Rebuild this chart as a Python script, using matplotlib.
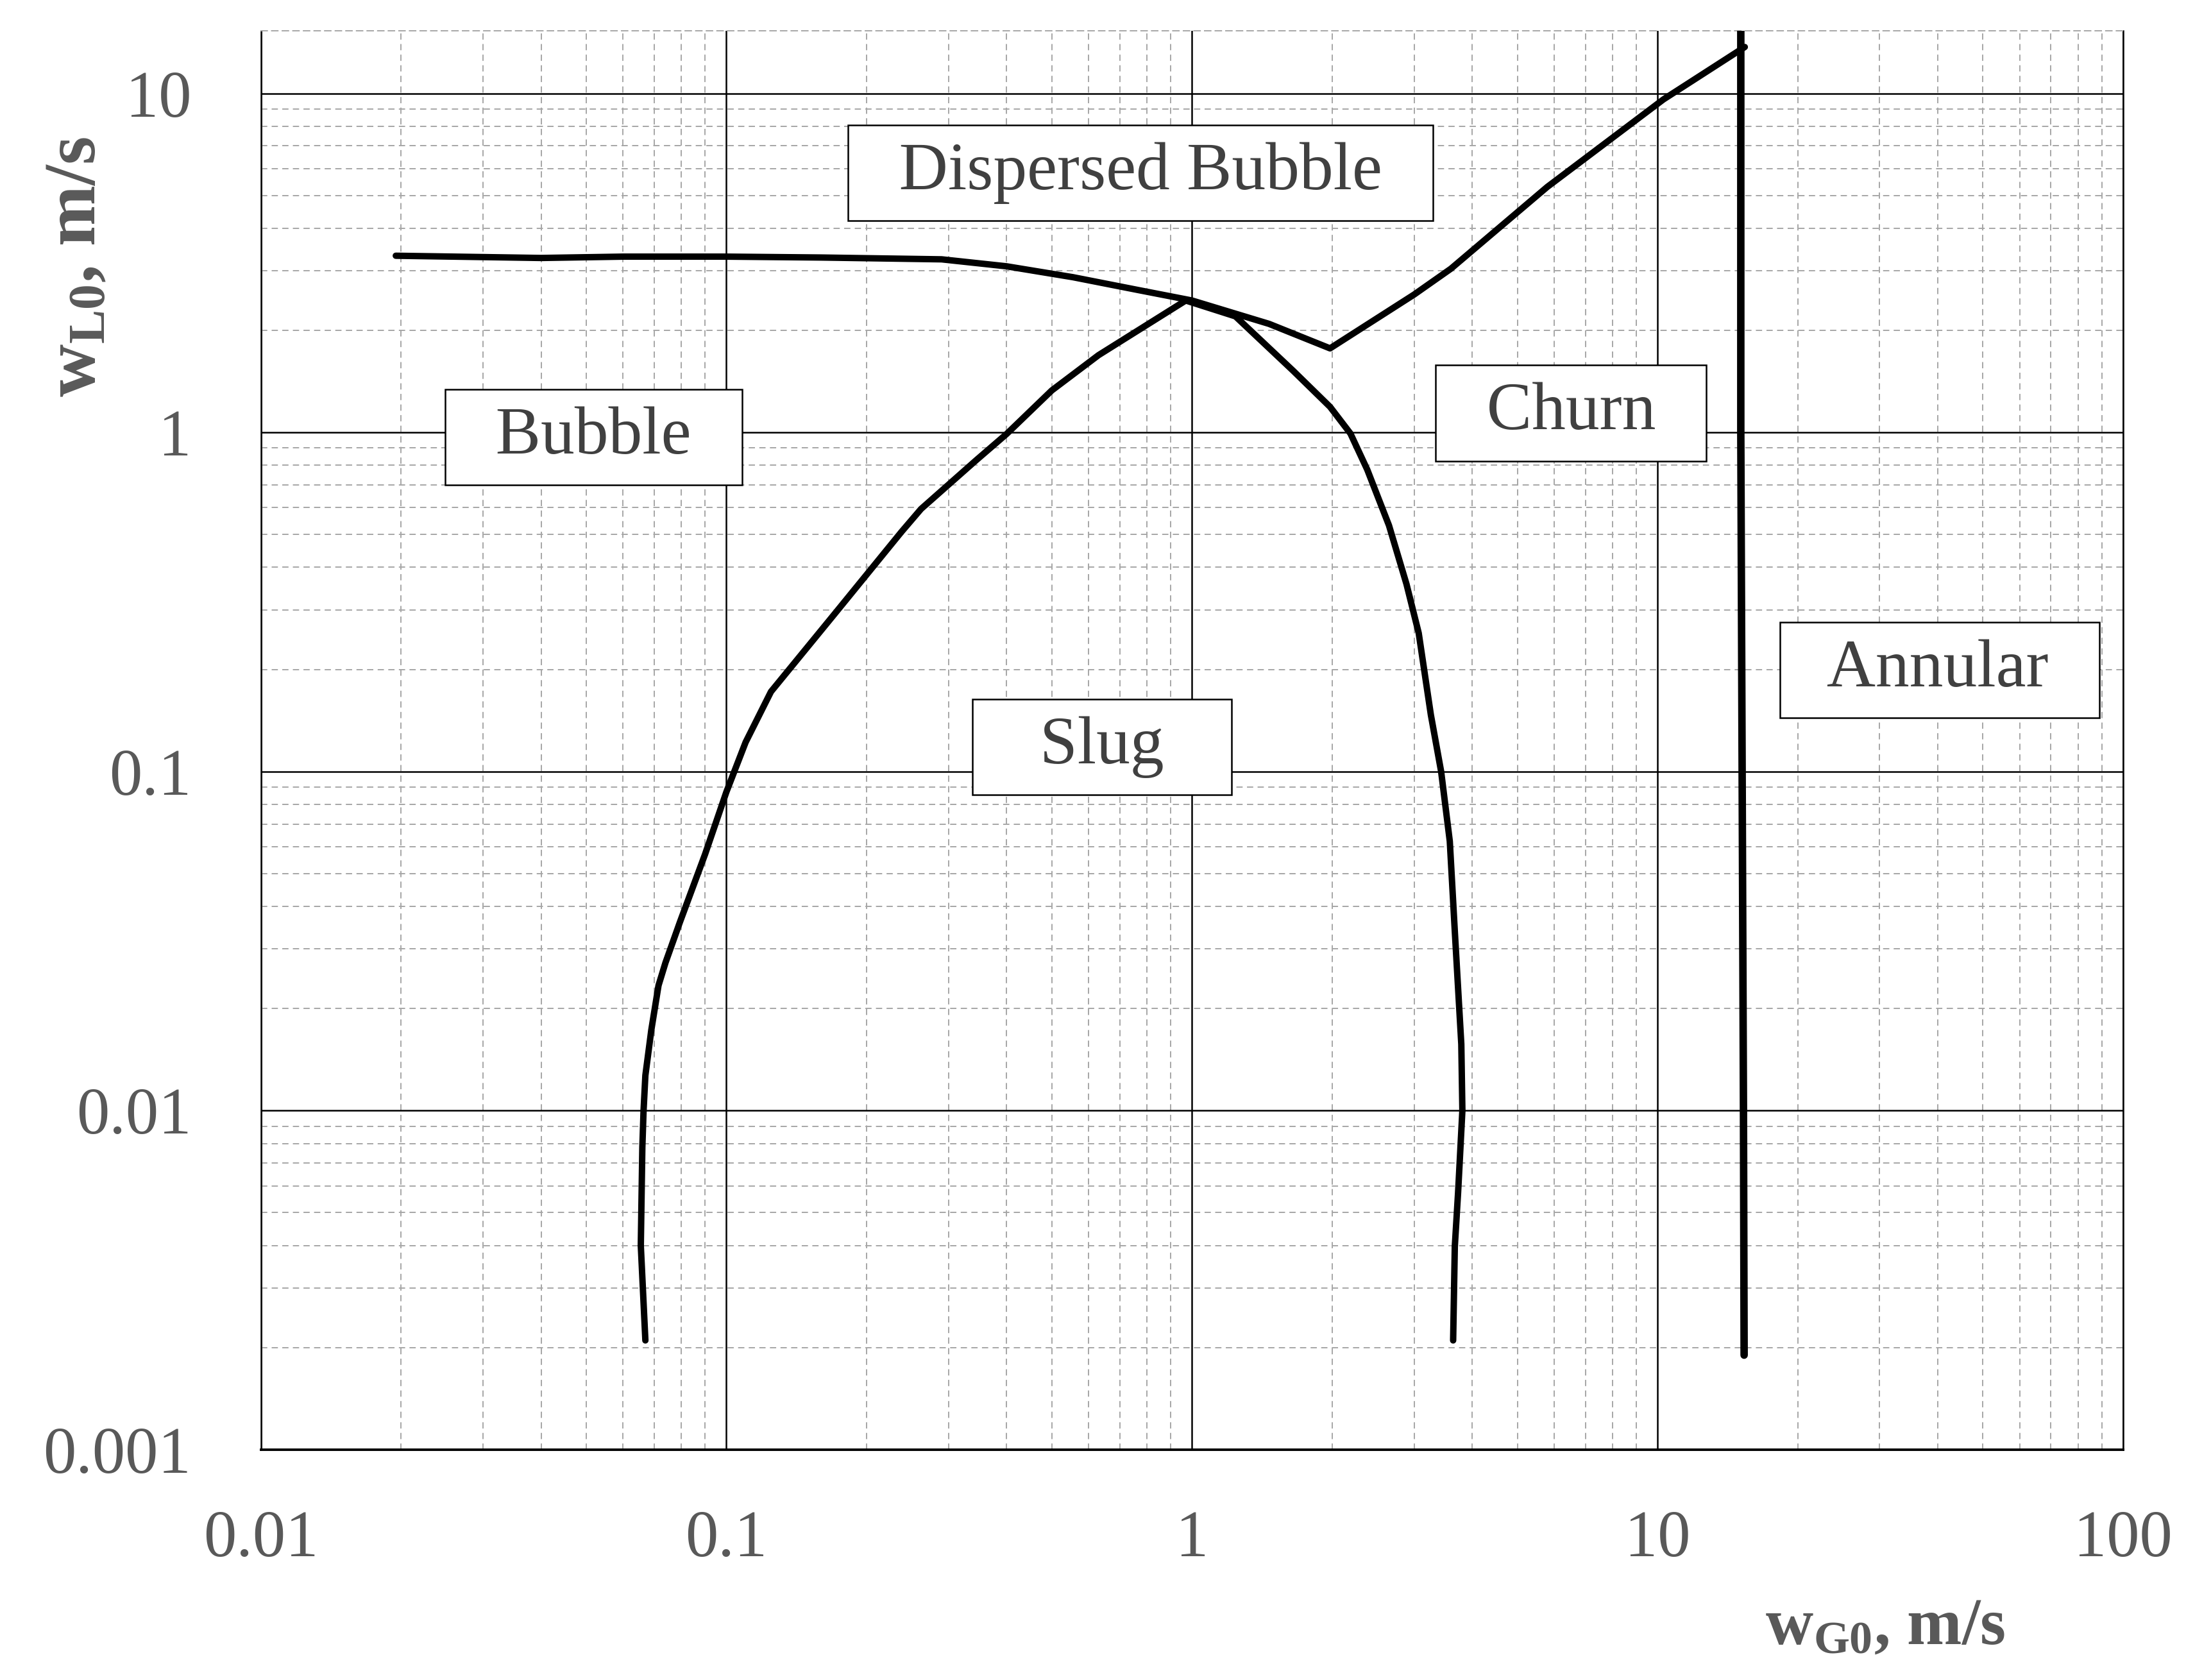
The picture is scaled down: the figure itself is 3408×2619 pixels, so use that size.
import matplotlib
matplotlib.use("Agg")
import matplotlib.pyplot as plt
from matplotlib import ticker

# ---- flow-pattern boundaries (w_G0, w_L0 in m/s) ----
# bubble / dispersed bubble and churn / dispersed bubble boundary
DB_X = [0.0195, 0.03, 0.04, 0.06, 0.1, 0.16, 0.29, 0.40, 0.555, 0.767,
        1.0, 1.465, 1.98, 3.0, 3.6, 5.8, 10.3, 15.4]
DB_Y = [3.32, 3.29, 3.27, 3.30, 3.30, 3.28, 3.24, 3.09, 2.87, 2.63,
        2.45, 2.09, 1.77, 2.55, 3.04, 5.3, 9.6, 13.7]

# bubble / slug boundary
BS_X = [0.067, 0.0655, 0.066, 0.0664, 0.067, 0.069, 0.0715, 0.074, 0.0795,
        0.090, 0.100, 0.110, 0.1247, 0.172, 0.238, 0.262, 0.344,
        0.40, 0.50, 0.63, 0.97]
BS_Y = [0.0021, 0.004, 0.0078, 0.010, 0.0127, 0.0173, 0.0234, 0.0273, 0.036,
        0.057, 0.087, 0.122, 0.172, 0.295, 0.51, 0.595, 0.828,
        0.99, 1.33, 1.69, 2.45]

# slug / churn boundary
SC_X = [0.97, 1.24, 1.65, 1.98, 2.19, 2.38, 2.65, 2.89, 3.07, 3.26, 3.43,
        3.58, 3.67, 3.79, 3.81, 3.73, 3.67, 3.64]
SC_Y = [2.45, 2.2, 1.52, 1.19, 0.993, 0.777, 0.532, 0.357, 0.256, 0.147, 0.1,
        0.0623, 0.0338, 0.0157, 0.010, 0.00573, 0.00397, 0.0021]

# churn / annular boundary
AN_X = [15.1, 15.1, 15.2, 15.3, 15.35]
AN_Y = [15.3, 1.0, 0.1, 0.01, 0.0019]

# region labels
REGION_NAMES = ["Dispersed Bubble", "Bubble", "Churn", "Annular", "Slug"]
REGION_X = [0.775, 0.0518, 6.52, 40.4, 0.641]
REGION_Y = [5.83, 0.967, 1.14, 0.199, 0.118]

X_TICKS = [0.01, 0.1, 1, 10, 100]
X_TICK_LABELS = ["0.01", "0.1", "1", "10", "100"]
Y_TICKS = [0.001, 0.01, 0.1, 1, 10]
Y_TICK_LABELS = ["0.001", "0.01", "0.1", "1", "10"]

plt.rcParams["font.family"] = ["Liberation Serif", "DejaVu Serif"]
plt.rcParams["mathtext.fontset"] = "custom"
plt.rcParams["mathtext.rm"] = "Liberation Serif"
plt.rcParams["mathtext.it"] = "Liberation Serif:italic"
plt.rcParams["mathtext.bf"] = "Liberation Serif:bold"

TEXT_GRAY = "#595959"
GRID_GRAY = "#a6a6a6"

fig = plt.figure(figsize=(17.04, 13.095), dpi=200)
ax = fig.add_axes([0.1193, 0.1371, 0.8519, 0.8446])

ax.set_xscale("log")
ax.set_yscale("log")
ax.set_xlim(0.01, 100)
ax.set_ylim(0.001, 15.3)

line_kw = dict(color="black", lw=3.6, solid_capstyle="round",
               solid_joinstyle="round", zorder=4)
ax.plot(DB_X, DB_Y, **line_kw)
ax.plot(BS_X, BS_Y, **line_kw)
ax.plot(SC_X, SC_Y, **line_kw)
ax.plot(AN_X, AN_Y, color="black", lw=4.2, solid_capstyle="round", zorder=4)

for name, x, y in zip(REGION_NAMES, REGION_X, REGION_Y):
    label = f"   {name}   " if name == "Slug" else f"  {name}  "
    ax.text(x, y, label, fontsize=38, color="#404040",
            ha="center", va="center", zorder=6,
            bbox=dict(boxstyle="square,pad=0.25", facecolor="white",
                      edgecolor="black", linewidth=0.9))

# ticks / grid
ax.xaxis.set_major_locator(ticker.FixedLocator(X_TICKS))
ax.xaxis.set_major_formatter(ticker.FixedFormatter(X_TICK_LABELS))
ax.yaxis.set_major_locator(ticker.FixedLocator(Y_TICKS))
ax.yaxis.set_major_formatter(ticker.FixedFormatter(Y_TICK_LABELS))
ax.xaxis.set_minor_locator(ticker.LogLocator(base=10, subs=range(2, 10), numticks=30))
ax.yaxis.set_minor_locator(ticker.LogLocator(base=10, subs=range(2, 10), numticks=30))
ax.xaxis.set_minor_formatter(ticker.NullFormatter())
ax.yaxis.set_minor_formatter(ticker.NullFormatter())

ax.tick_params(which="both", length=0, labelsize=37, labelcolor=TEXT_GRAY)
ax.tick_params(axis="x", pad=34)
ax.tick_params(axis="y", pad=39)

ax.grid(which="major", color="black", lw=0.9, ls="-", zorder=1)
ax.grid(which="minor", color=GRID_GRAY, lw=0.7, ls=(0, (5, 3.5)), zorder=0)
ax.set_axisbelow(True)

for side in ["left", "right"]:
    ax.spines[side].set_linewidth(0.9)
    ax.spines[side].set_color("black")
ax.spines["bottom"].set_linewidth(1.4)
ax.spines["top"].set_color(GRID_GRAY)
ax.spines["top"].set_linewidth(0.7)
ax.spines["top"].set_linestyle((0, (5, 3.5)))

fig.text(0.0352, 0.841, r"$\mathbf{w_{L0}}$, m/s", rotation=90,
         fontsize=41, fontweight="bold", color=TEXT_GRAY,
         ha="center", va="center")
fig.text(0.8624, 0.031, r"$\mathbf{w_{G0}}$, m/s",
         fontsize=37, fontweight="bold", color=TEXT_GRAY,
         ha="center", va="center")

fig.savefig("out.png", dpi=200)
